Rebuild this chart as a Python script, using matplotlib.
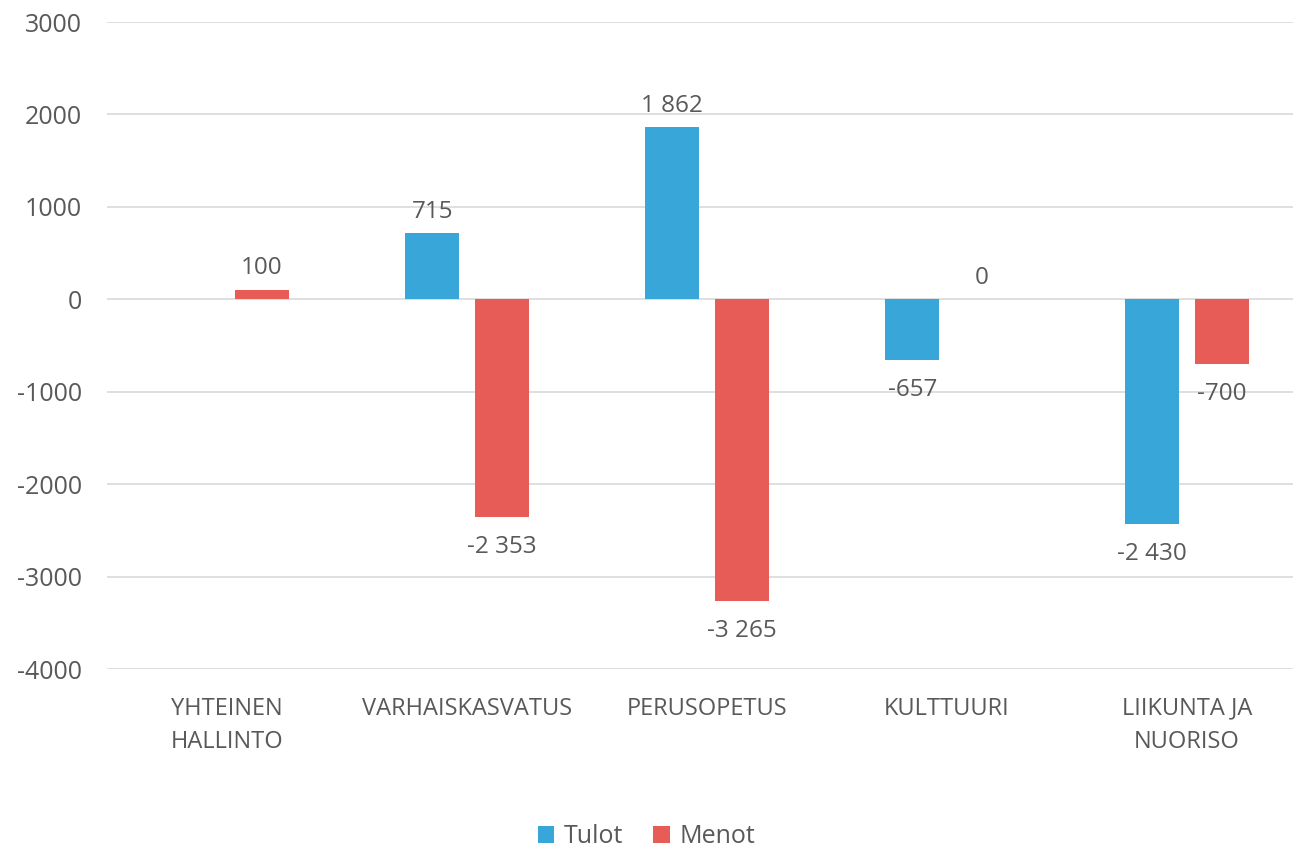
import matplotlib
matplotlib.use("Agg")
import matplotlib.pyplot as plt
import numpy as np

categories = ["YHTEINEN\nHALLINTO", "VARHAISKASVATUS", "PERUSOPETUS", "KULTTUURI", "LIIKUNTA JA\nNUORISO"]
tulot = [None, 715, 1862, -657, -2430]
menot = [100, -2353, -3265, 0, -700]
tulot_labels = [None, "715", "1 862", "-657", "-2 430"]
menot_labels = ["100", "-2 353", "-3 265", "0", "-700"]
yticks = [-4000, -3000, -2000, -1000, 0, 1000, 2000, 3000]

blue = "#38A6D8"
red = "#E85C58"
text_color = "#595959"

plt.rcParams['font.family'] = ['Open Sans', 'DejaVu Sans']
plt.rcParams['axes.unicode_minus'] = False

fig = plt.figure(figsize=(12.93, 8.48), dpi=100)
ax = fig.add_axes([0.0828, 0.211, 0.928, 0.763])

x = np.arange(len(categories))
w = 0.227
off = 0.145

def draw(vals, labels, pos, color, name):
    xs = [xi for xi, v in zip(x, vals) if v is not None]
    vs = [v for v in vals if v is not None]
    ax.bar(np.array(xs) + pos, vs, width=w, color=color, label=name, zorder=3)
    for xi, v, lab in zip(x, vals, labels):
        if v is None:
            continue
        if v >= 0:
            ax.annotate(lab, (xi + pos, v), xytext=(0, 7), textcoords="offset points",
                        ha="center", va="bottom", fontsize=17.5, color=text_color)
        else:
            ax.annotate(lab, (xi + pos, v), xytext=(0, -13), textcoords="offset points",
                        ha="center", va="top", fontsize=17.5, color=text_color)

draw(tulot, tulot_labels, -off, blue, "Tulot")
draw(menot, menot_labels, off, red, "Menot")

ax.set_ylim(-4000, 3000)
ax.set_xlim(-0.5, len(categories) - 0.5)
ax.set_yticks(yticks)
ax.set_yticklabels([str(t) for t in yticks])
ax.set_xticks(x)
ax.set_xticklabels(categories, fontsize=17, color=text_color, linespacing=1.5)
ax.tick_params(axis="y", labelsize=18, labelcolor=text_color, length=0, pad=18)
ax.tick_params(axis="x", length=0, pad=20)
ax.grid(axis="y", color="#D9D9D9", linewidth=1.2, zorder=0)
for s in ax.spines.values():
    s.set_visible(False)

fig.legend(loc="lower center", bbox_to_anchor=(0.5, -0.028), ncol=2, frameon=False,
           fontsize=18, labelcolor=text_color, handlelength=0.65, handleheight=0.65,
           handletextpad=0.4, columnspacing=1.2)

fig.savefig("out.png", dpi=100)
